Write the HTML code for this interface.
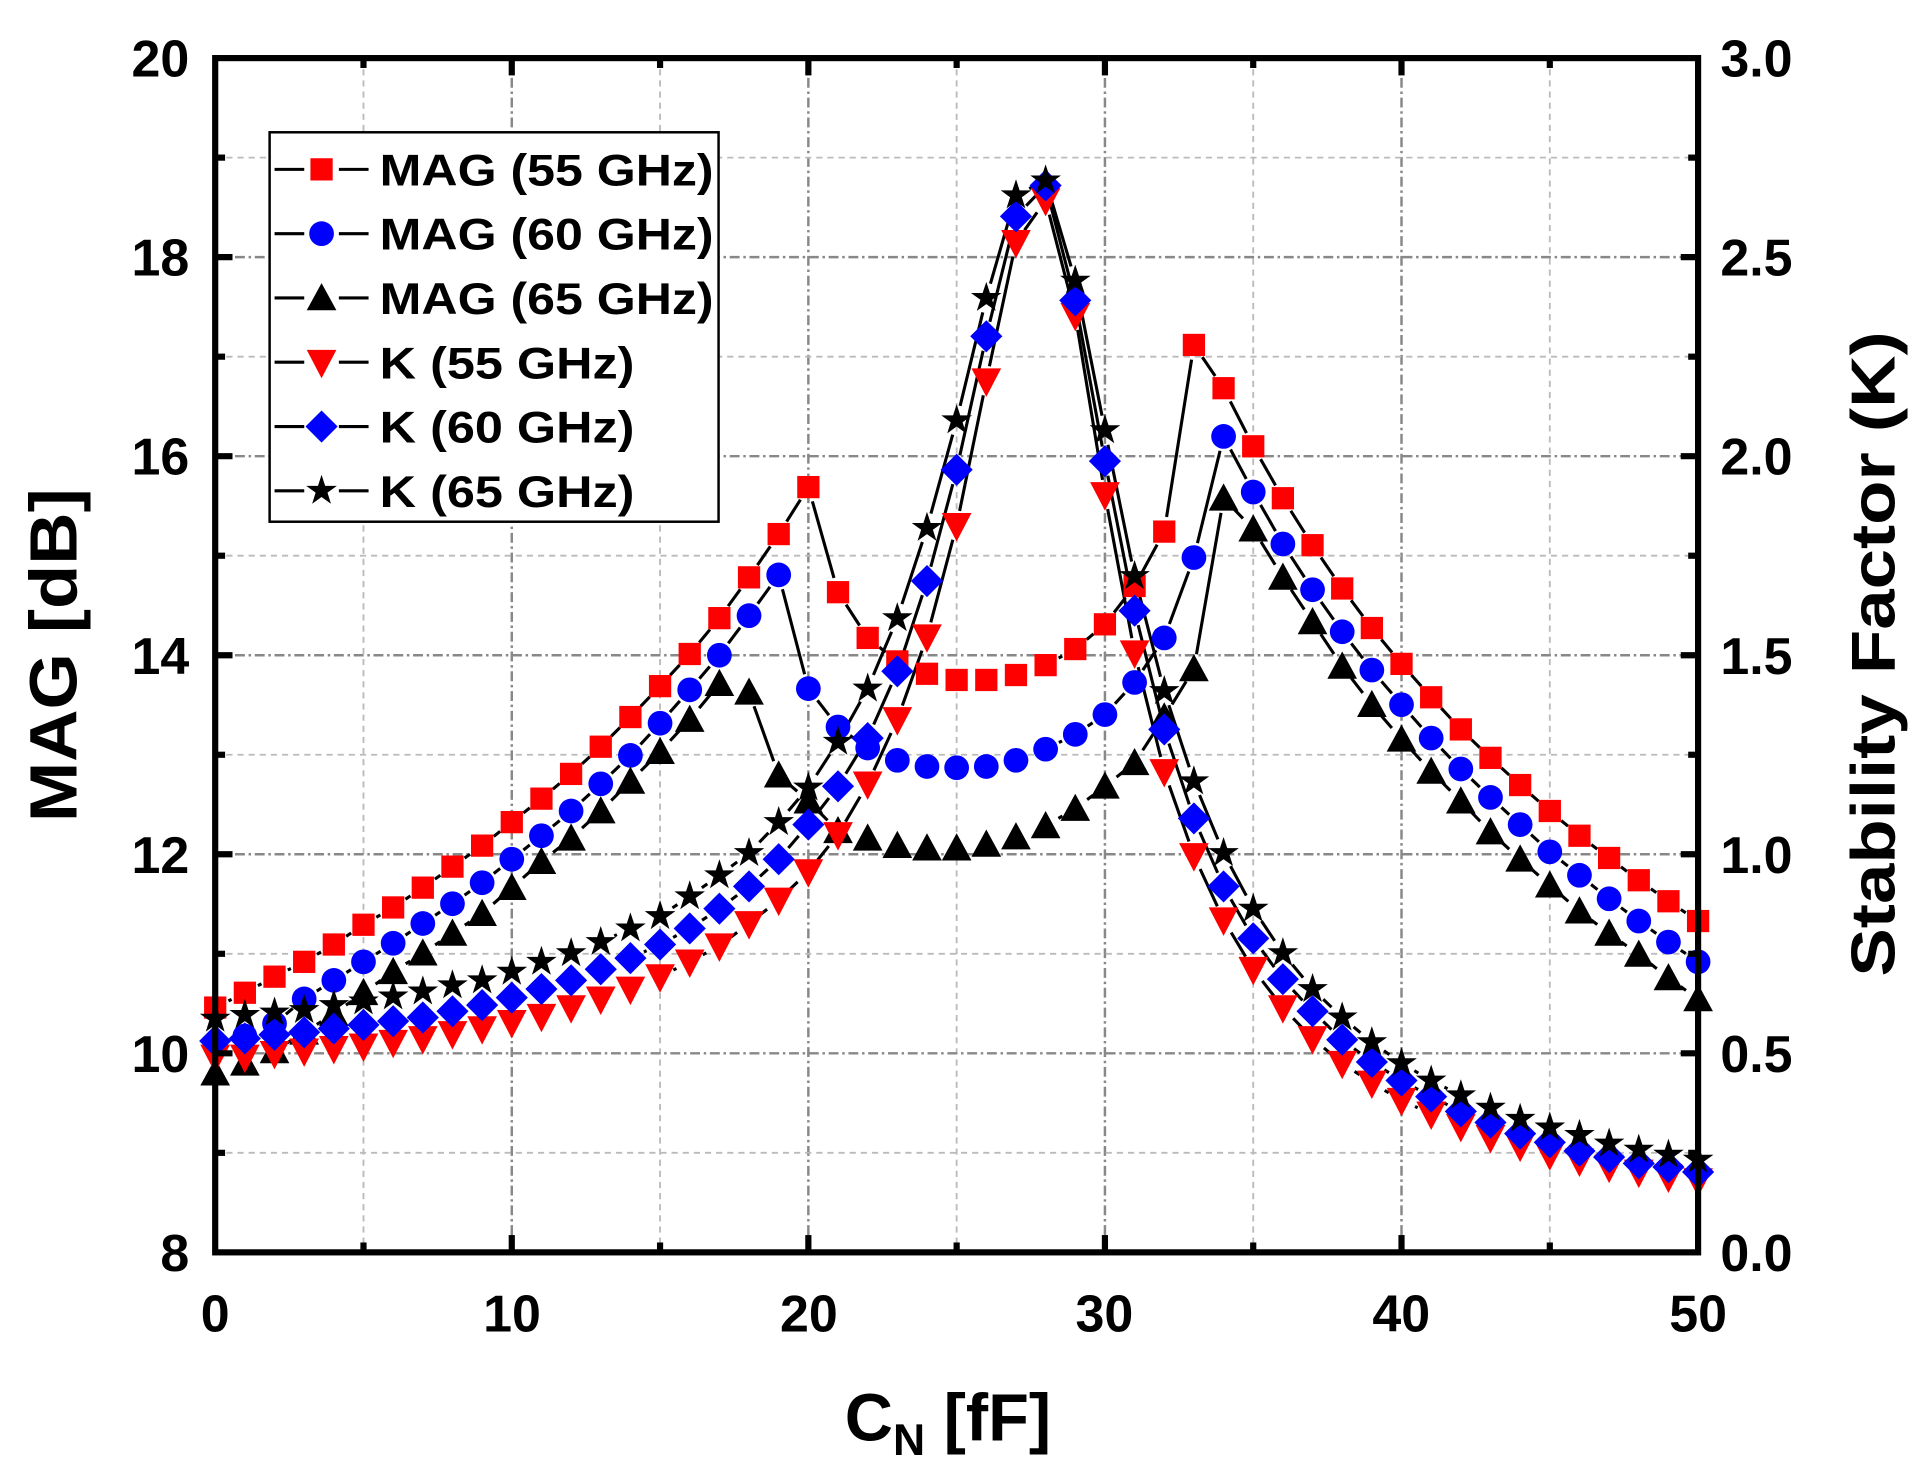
<!DOCTYPE html>
<html><head><meta charset="utf-8"><style>
html,body{margin:0;padding:0;background:#fff;}
svg{display:block;}
text{font-family:"Liberation Sans",Arial,sans-serif;font-weight:bold;fill:#000;}
</style></head><body>
<svg id="s" width="1917" height="1465" viewBox="0 0 1550 1185" preserveAspectRatio="none" xmlns="http://www.w3.org/2000/svg">
<rect width="1550" height="1185" fill="#fff"/>
<g id="grid"></g>
<g id="data"></g>
<rect x="174" y="47" width="1199" height="966" fill="none" stroke="#000" stroke-width="5"/>
<g id="ticks"></g>
<g font-size="42" text-anchor="end">
<text x="153" y="62">20</text><text x="153" y="223">18</text><text x="153" y="384">16</text>
<text x="153" y="545">14</text><text x="153" y="706">12</text><text x="153" y="867">10</text><text x="153" y="1028">8</text>
</g>
<g font-size="42" text-anchor="start">
<text x="1391" y="62">3.0</text><text x="1391" y="223">2.5</text><text x="1391" y="384">2.0</text>
<text x="1391" y="545">1.5</text><text x="1391" y="706">1.0</text><text x="1391" y="867">0.5</text><text x="1391" y="1028">0.0</text>
</g>
<g font-size="42" text-anchor="middle">
<text x="174" y="1077">0</text><text x="414" y="1077">10</text><text x="654" y="1077">20</text>
<text x="893" y="1077">30</text><text x="1133" y="1077">40</text><text x="1373" y="1077">50</text>
</g>
<text font-size="54" x="-665" y="62" transform="rotate(-90)" textLength="270" lengthAdjust="spacingAndGlyphs">MAG [dB]</text>
<text font-size="50" x="-790" y="1532" transform="rotate(-90)" textLength="522" lengthAdjust="spacingAndGlyphs">Stability Factor (K)</text>
<text font-size="54" x="683" y="1165">C<tspan font-size="36" dy="12">N</tspan><tspan dy="-12"> [fF]</tspan></text>
<rect x="218" y="107" width="363" height="315" fill="#fff" stroke="#000" stroke-width="2"/>
<g id="leg"></g>
<g font-size="36">
<text x="307" y="150" textLength="270" lengthAdjust="spacingAndGlyphs">MAG (55 GHz)</text>
<text x="307" y="202" textLength="270" lengthAdjust="spacingAndGlyphs">MAG (60 GHz)</text>
<text x="307" y="254" textLength="270" lengthAdjust="spacingAndGlyphs">MAG (65 GHz)</text>
<text x="307" y="306" textLength="206" lengthAdjust="spacingAndGlyphs">K (55 GHz)</text>
<text x="307" y="358" textLength="206" lengthAdjust="spacingAndGlyphs">K (60 GHz)</text>
<text x="307" y="410" textLength="206" lengthAdjust="spacingAndGlyphs">K (65 GHz)</text>
</g>
</svg>
<script>
var NS="http://www.w3.org/2000/svg";
function el(p,t,a){var e=document.createElementNS(NS,t);for(var k in a)e.setAttribute(k,a[k]);p.appendChild(e);return e;}
var g=document.getElementById('grid'),tk=document.getElementById('ticks'),dg=document.getElementById('data'),lg=document.getElementById('leg');
var L=174,R=1373,T=47,B=1013;
function X(v){return L+(R-L)*v/50;}
for(var i=1;i<10;i++){var x=X(i*5);el(g,'line',{x1:x,y1:T,x2:x,y2:B,stroke:i%2?'#bbb':'#888','stroke-width':i%2?1.5:2,'stroke-dasharray':i%2?'5,4':'8,3,2,3'});
 el(tk,'line',{x1:x,y1:B,x2:x,y2:B-(i%2?8:14),stroke:'#000','stroke-width':5});
 el(tk,'line',{x1:x,y1:T,x2:x,y2:T+(i%2?8:14),stroke:'#000','stroke-width':5});}
for(var i=1;i<12;i++){var y=B-(B-T)*i/12;el(g,'line',{x1:L,y1:y,x2:R,y2:y,stroke:i%2?'#bbb':'#888','stroke-width':i%2?1.5:2,'stroke-dasharray':i%2?'5,4':'8,3,2,3'});
 el(tk,'line',{x1:L,y1:y,x2:L+(i%2?8:14),y2:y,stroke:'#000','stroke-width':5});
 el(tk,'line',{x1:R,y1:y,x2:R-(i%2?8:14),y2:y,stroke:'#000','stroke-width':5});}
function mk(p,type,x,y){
 if(type=='sq')el(p,'rect',{x:x-9,y:y-9,width:18,height:18,fill:'#f00'});
 else if(type=='ci')el(p,'ellipse',{cx:x,cy:y,rx:10,ry:10,fill:'#00f'});
 else if(type=='tu')el(p,'polygon',{points:(x-12)+','+(y+10)+' '+(x+12)+','+(y+10)+' '+x+','+(y-12),fill:'#000'});
 else if(type=='td')el(p,'polygon',{points:(x-12)+','+(y-10)+' '+(x+12)+','+(y-10)+' '+x+','+(y+13),fill:'#f00'});
 else if(type=='di')el(p,'polygon',{points:(x-13)+','+y+' '+x+','+(y-13)+' '+(x+13)+','+y+' '+x+','+(y+13),fill:'#00f'});
 else if(type=='st'){var pts=[];for(var k=0;k<10;k++){var r=k%2?5:13,a=-Math.PI/2+k*Math.PI/5;pts.push((x+r*Math.cos(a)).toFixed(1)+','+(y+r*Math.sin(a)).toFixed(1));}el(p,'polygon',{points:pts.join(' '),fill:'#000'});}
}
var S=[
['sq',[815,803,790,778,764,748,734,718,701,684,665,646,626,604,580,555,529,500,467,432,394,479,516,535,545,550,550,546,538,525,505,474,430,279,314,361,403,441,476,508,537,564,590,613,635,656,676,694,712,729,745]],
['ci',[845,838,828,808,793,778,763,747,731,714,695,676,656,634,611,585,558,530,498,465,557,588,605,615,620,621,620,615,606,594,578,552,516,451,353,398,440,477,511,542,570,597,622,645,667,689,708,727,745,762,778]],
['tu',[868,860,850,835,820,803,786,771,755,739,718,697,678,656,632,608,582,553,560,627,648,672,678,684,686,686,683,677,668,654,636,617,580,541,403,428,467,503,539,570,598,624,648,673,695,716,737,755,772,791,808]],
['td',[855,855,852,850,848,846,843,840,836,832,827,822,815,808,800,790,778,765,747,728,705,675,634,582,515,425,308,196,162,255,400,528,624,692,744,784,815,840,860,876,890,901,911,920,927,934,939,944,948,952,955]],
['di',[842,840,837,835,832,829,826,823,818,813,807,800,793,784,775,764,751,735,717,695,667,636,597,543,470,380,272,175,150,243,373,494,590,662,717,759,792,818,841,859,874,887,899,908,917,924,931,936,941,944,948]],
['st',[824,821,819,817,813,810,806,802,797,793,786,778,771,762,751,741,725,708,690,665,637,600,557,500,427,340,241,158,146,227,348,466,559,632,690,735,771,800,823,843,860,874,886,896,905,912,918,925,930,934,938]]];
S.forEach(function(s){
 var ys=s[1];
 for(var i=0;i<50;i++){var x1=X(i),y1=ys[i],x2=X(i+1),y2=ys[i+1],dx=x2-x1,dy=y2-y1,d=Math.hypot(dx,dy),gp=12;
  if(d>2*gp+2)el(dg,'line',{x1:x1+dx*gp/d,y1:y1+dy*gp/d,x2:x2-dx*gp/d,y2:y2-dy*gp/d,stroke:'#000','stroke-width':2.5});}
});
S.forEach(function(s){s[1].forEach(function(y,i){mk(dg,s[0],X(i),y);});});
var ly=[137,189,241,293,345,397];
S.forEach(function(s,i){el(lg,'line',{x1:222,y1:ly[i],x2:246,y2:ly[i],stroke:'#000','stroke-width':2.5});el(lg,'line',{x1:274,y1:ly[i],x2:298,y2:ly[i],stroke:'#000','stroke-width':2.5});mk(lg,s[0],260,ly[i]);});
</script>
</body></html>
